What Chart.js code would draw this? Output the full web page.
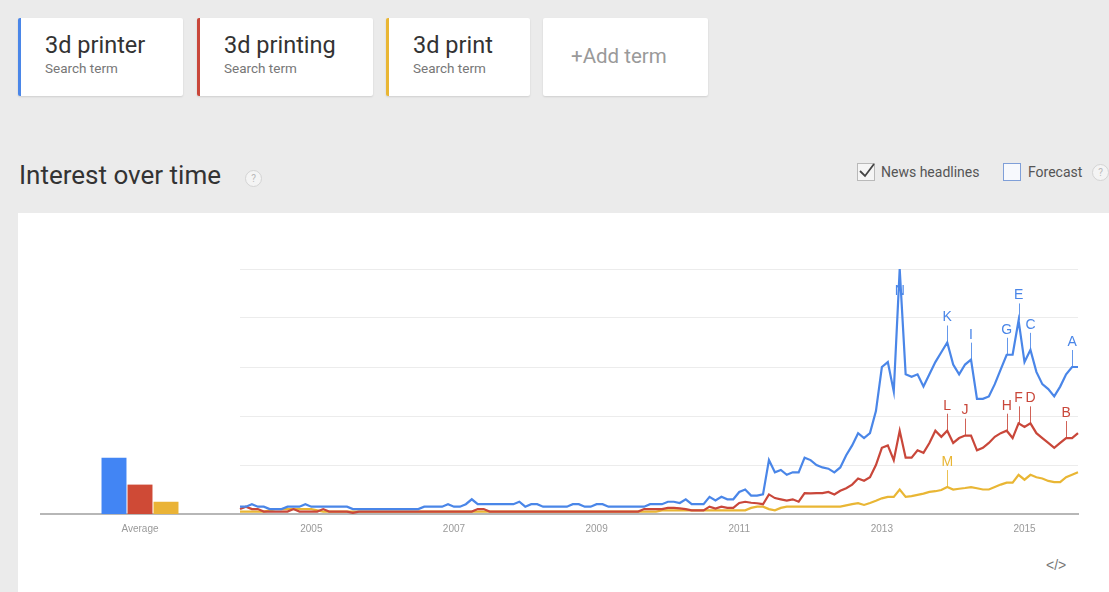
<!DOCTYPE html>
<html>
<head>
<meta charset="utf-8">
<script src="https://cdn.jsdelivr.net/npm/chart.js"></script>
<style>
  html,body{margin:0;padding:0;}
  body{width:1109px;height:592px;background:#ebebeb;position:relative;overflow:hidden;font-family:Roboto,"Liberation Sans",Arial,sans-serif;}
  .card{position:absolute;top:18px;height:78px;background:#fff;box-shadow:0 1px 2px rgba(0,0,0,0.12);border-radius:2px;}
  .card .t{position:absolute;left:24px;top:13px;font-size:23.5px;color:#333;line-height:28px;white-space:nowrap;}
  .card .s{position:absolute;left:24px;top:42px;font-size:13.5px;color:#777;line-height:16px;white-space:nowrap;}
  .add{position:absolute;left:28px;top:26px;font-size:20.5px;color:#9a9a9a;line-height:24px;}
  #title{position:absolute;left:19px;top:159px;font-size:26px;color:#333;line-height:32px;white-space:nowrap;}
  .q{position:absolute;width:15px;height:15px;border:1px solid #d4d4d4;border-radius:50%;font-size:10px;color:#b9b9b9;text-align:center;line-height:15px;background:#f4f4f4;}
  .cb{position:absolute;width:16px;height:16px;border:1px solid #b9b9b9;background:#f5f5f5;}
  .lbl{position:absolute;font-size:14px;color:#555;line-height:18px;white-space:nowrap;}
  #panel{position:absolute;left:18px;top:213px;width:1100px;height:400px;background:#fff;}
  canvas{position:absolute;}
  #embed{position:absolute;left:1046px;top:557px;font-size:14px;color:#777;font-family:"Liberation Sans",Arial,sans-serif;}
</style>
</head>
<body>
<div class="card" style="left:18px;width:162px;border-left:3px solid #4a86e8;"><div class="t">3d printer</div><div class="s">Search term</div></div>
<div class="card" style="left:197px;width:173px;border-left:3px solid #c9473a;"><div class="t">3d printing</div><div class="s">Search term</div></div>
<div class="card" style="left:386px;width:141px;border-left:3px solid #e9b634;"><div class="t">3d print</div><div class="s">Search term</div></div>
<div class="card" style="left:543px;width:165px;"><div class="add">+Add term</div></div>

<div id="title">Interest over time</div>
<div class="q" style="left:245px;top:170px;">?</div>

<div class="cb" style="left:857px;top:163px;"></div>
<svg style="position:absolute;left:857px;top:161px;" width="20" height="20"><path d="M3 10 L8 15 L17 3" fill="none" stroke="#444" stroke-width="1.8"/></svg>
<div class="lbl" style="left:881px;top:163px;">News headlines</div>
<div class="cb" style="left:1003px;top:163px;border-color:#7f9fd8;background:#f7f9fd;"></div>
<div class="lbl" style="left:1028px;top:163px;">Forecast</div>
<div class="q" style="left:1092px;top:164px;">?</div>

<div id="panel"></div>
<canvas id="bars" width="200" height="285" style="left:40px;top:259px;"></canvas>
<canvas id="line" width="858" height="285" style="left:230px;top:259px;"></canvas>
<div id="embed">&lt;/&gt;</div>

<script>
// ---------- DATA ----------
const startYear = 2004;
const monthCount = 142;           // Jan 2004 .. Oct 2015
const yearTicks = ['2005','2007','2009','2011','2013','2015'];
const seriesNames = ['3d printer','3d printing','3d print'];
const averageLabel = ['Average'];
const averages = [23, 12, 5];

const printer = [
  3,3,4,3,3,2,2,2,3,3,3,4,
  3,3,3,3,3,3,3,2,2,2,2,2,
  2,2,2,2,2,2,2,3,3,3,3,4,
  3,3,4,6,4,4,4,4,4,4,4,5,
  3,4,4,3,3,3,3,3,4,4,3,3,
  4,4,3,3,3,3,3,3,3,4,4,4,
  5,5,4.5,6,4,4,4,7,5.5,7,6,6,
  9,10,7.5,7.5,8,22,17,18,16,17,17,23,
  22,20,19,18.5,17,19,24,28,33,31,33,42,
  60,62,50,100,57,56,57,52,57,62,66,70,
  61,57,61,63,47,47,48,53,59,65,65,79,
  62,67,58,53,51,48,52,57,60,60
];
const printing = [
  2,3,2,2,1,1,1,1,1,2,1,1,
  1,1,2,1,1,1,1,0.5,1,1,1,1,
  1,1,1,1,1,1,1,1,1,1,1,1,
  1,1,1,1,2,2,1,1,1,1,1,1,
  1,1,1,1,1,1,1,1,1,1,1,1,
  1,1,1,1,1,1,1,1,2,2,2,2,
  2.5,2.5,2.3,2,1.5,1.5,1.5,3,2.2,3,2.5,2.5,
  4.5,5,4.6,4.4,4,8,6.5,6,5.5,6,5,8.5,
  8.4,8.5,8.5,9,8,9.5,10.5,12,14.5,13.6,15,20,
  27,28,22,34,23,23,26,25,29,34,31.5,34,
  29,31,32,32,26,27,29,31.5,33,34,31,37,
  35.5,37,33,31,29,27,29,31,31,33
];
const print = [
  1,1,1,1,1,1.5,2,2,2,2,2,2,
  2,1.5,1,1,1,1,1,1,1,1,1,1,
  1,1,1,1,1,1,1,1,1,1,1,1,
  1,1,1,1,1,1,1,1,1,1,1,1,
  1,1,1,1,1,1,1,1,1,1,1,1,
  1,1,1,1,1,1,1,1,1,1,1,1.5,
  1.5,1.5,1.5,1.5,1.5,1.5,1.5,1.5,1.5,1.5,1.5,1.5,
  1.5,1.5,2.5,3,3,2,1.5,2.5,3,3,3,3,
  3,3,3,3,3,3,3.5,4,4.4,3.7,4.5,5.4,
  6.4,7,7,10,7,7.3,7.8,8.3,9,9.3,9.8,11,
  10,10.3,10.6,11,10.5,10,10,11,12,12.8,12.8,16,
  14,16,15,14.5,13.5,13,13,15,16,17
];
// news headline flags: letter, series, month index
const flagLetters = ['A','B','C','D','E','F','G','H','I','J','K','L','M','N'];
const flagSeries  = [0,1,0,1,0,1,0,1,0,1,0,1,2,0];
const flagIndex   = [140,139,133,133,131,131,129,129,123,122,119,119,119,111];

// ---------- BUILD ----------
const months = [];
for (let i = 0; i < monthCount; i++) {
  const y = startYear + Math.floor(i / 12), m = i % 12 + 1;
  months.push(y + '-' + (m < 10 ? '0' + m : m));
}
const COLORS = ['#4a86e8', '#c9473a', '#e9b634'];
const BAR_COLORS = ['#4285f4', '#cf4a36', '#eab336'];
const tickFont = {family: '"Liberation Sans", Arial, sans-serif', size: 10};

const flagPlugin = {
  id: 'flags',
  afterDatasetsDraw(chart) {
    const {ctx, chartArea} = chart;
    flagLetters.forEach((letter, k) => {
      const ds = flagSeries[k];
      const pt = chart.getDatasetMeta(ds).data[flagIndex[k]];
      if (!pt) return;
      const color = COLORS[ds];
      let ty = pt.y - 25;
      if (ty < chartArea.top + 14) ty = chartArea.top + 22;
      ctx.save();
      ctx.strokeStyle = color;
      ctx.globalAlpha = 0.85;
      ctx.lineWidth = 1;
      const sx = Math.round(pt.x) + 0.5;
      if (ty + 8 < pt.y) {
        ctx.beginPath(); ctx.moveTo(sx, ty + 8); ctx.lineTo(sx, pt.y); ctx.stroke();
      }
      ctx.globalAlpha = 1;
      ctx.fillStyle = color;
      ctx.font = '14px "Liberation Sans", Arial, sans-serif';
      ctx.textAlign = 'center';
      ctx.textBaseline = 'middle';
      ctx.fillText(letter, pt.x, ty);
      ctx.restore();
    });
  }
};

new Chart(document.getElementById('line'), {
  type: 'line',
  data: {
    labels: months,
    datasets: [printer, printing, print].map((d, i) => ({
      label: seriesNames[i], data: d, borderColor: COLORS[i], borderWidth: 2.2,
      pointRadius: 0, tension: 0, fill: false
    }))
  },
  options: {
    responsive: false, animation: false,
    layout: {padding: {top: 10, left: 10, right: 10, bottom: 0}},
    plugins: {legend: {display: false}, tooltip: {enabled: false}},
    scales: {
      x: {
        offset: false,
        grid: {display: false, drawTicks: false},
        border: {color: '#b7b7b7', width: 2},
        ticks: {
          autoSkip: false, maxRotation: 0, color: '#9a9a9a', font: tickFont, padding: 9,
          callback(v, i) {
            const lab = months[i];
            const yr = lab.slice(0, 4);
            return (lab.endsWith('-01') && yearTicks.includes(yr)) ? yr : '';
          }
        },
        afterFit(s) { s.height = 30; }
      },
      y: {
        min: 0, max: 100,
        ticks: {display: false, stepSize: 20},
        grid: {color: '#ececec', drawTicks: false},
        border: {display: false},
        afterFit(s) { s.width = 0; }
      }
    }
  },
  plugins: [flagPlugin]
});

new Chart(document.getElementById('bars'), {
  type: 'bar',
  data: {
    labels: averageLabel,
    datasets: averages.map((v, i) => ({label: seriesNames[i], data: [v], backgroundColor: BAR_COLORS[i]}))
  },
  options: {
    responsive: false, animation: false,
    layout: {padding: {top: 10, left: 0, right: 0, bottom: 0}},
    plugins: {legend: {display: false}, tooltip: {enabled: false}},
    datasets: {bar: {categoryPercentage: 0.39, barPercentage: 0.96}},
    scales: {
      x: {
        grid: {display: false, drawTicks: false},
        border: {color: '#b7b7b7', width: 2},
        ticks: {color: '#9a9a9a', font: tickFont, padding: 9},
        afterFit(s) { s.height = 30; }
      },
      y: {min: 0, max: 100, display: false}
    }
  }
});
</script>
</body>
</html>
